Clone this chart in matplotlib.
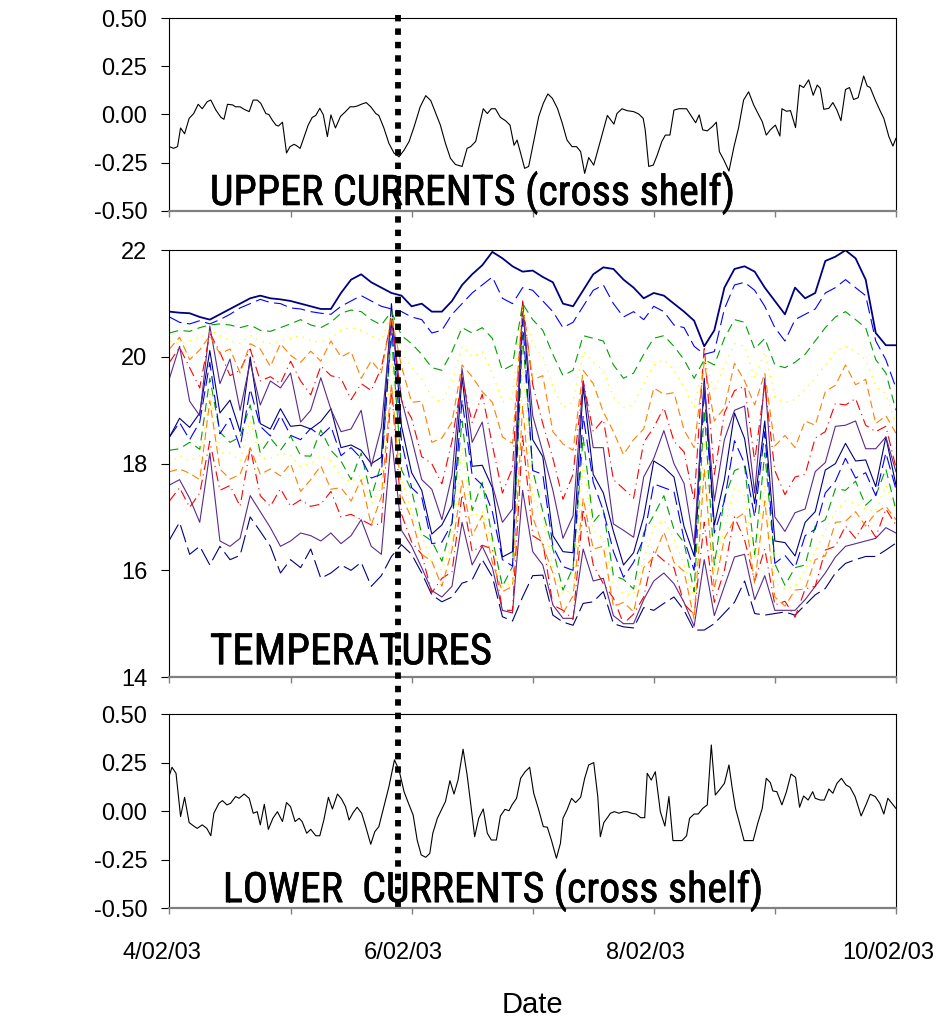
import datetime as dt
import numpy as np
import matplotlib
matplotlib.use('Agg')
import matplotlib.pyplot as plt
import matplotlib.dates as mdates
import matplotlib.patheffects as pe
from matplotlib import font_manager
from matplotlib.lines import Line2D
from matplotlib.ticker import FuncFormatter
from matplotlib.transforms import blended_transform_factory, ScaledTranslation

plt.rcParams['font.family'] = ['Liberation Sans', 'DejaVu Sans']

START = dt.datetime(2003, 2, 4)
EVENT_HOUR = 45.3          # dotted marker line

# ── Upper currents (cross shelf), hours since 4/02/03 ──────────────────────────
UPPER_H = [0, 0.8, 1.6, 2.2, 3.0, 3.9, 4.8, 5.7, 6.5, 7.5,
           8.2, 9.2, 10.2, 10.8, 11.5, 12.5, 13.1, 14.0, 14.8, 15.8,
           16.6, 17.4, 18.1, 19.1, 19.7, 20.4, 21.1, 21.6, 22.4, 23.2,
           23.9, 24.7, 25.2, 25.9, 26.7, 27.5, 28.3, 29.0, 29.8, 30.5,
           31.3, 32.0, 32.9, 33.9, 34.9, 35.8, 36.6, 37.2, 38.2, 39.0,
           39.9, 40.9, 41.5, 42.5, 43.5, 44.5, 45.5, 46.5, 47.5, 48.5,
           49.7, 50.8, 51.8, 52.8, 53.7, 54.7, 55.7, 56.7, 58.0, 59.0,
           59.7, 60.7, 61.3, 62.2, 63.0, 63.8, 64.6, 65.6, 66.6, 67.5,
           68.3, 68.9, 69.6, 70.4, 71.2, 72.2, 73.2, 74.1, 75.0, 75.9,
           76.9, 77.8, 78.8, 79.8, 80.7, 81.5, 82.3, 83.1, 84.1, 85.1,
           86.0, 86.8, 88.1, 88.7, 89.7, 90.7, 92.0, 93.0, 93.9, 94.3,
           95.0, 95.9, 96.7, 97.6, 98.3, 99.2, 100.0, 101.0, 102.5, 103.6,
           104.3, 105.0, 105.7, 106.6, 107.6, 108.4, 109.0, 109.9, 110.9, 111.9,
           112.8, 113.8, 114.8, 115.8, 116.8, 117.5, 118.3, 119.1, 120.1, 121.0,
           121.4, 122.3, 123.1, 124.1, 124.9, 125.7, 126.7, 127.6, 128.4, 129.0,
           129.7, 130.7, 131.5, 132.3, 133.1, 134.0, 134.8, 135.6, 136.5, 137.6,
           138.3, 138.9, 139.9, 140.8, 141.6, 142.6, 143.4, 144.0]
UPPER_V = [-0.167, -0.176, -0.167, -0.07, -0.10, -0.02, 0.005, 0.053, 0.03, 0.067,
           0.075, 0.023, -0.015, -0.025, 0.053, 0.05, 0.04, 0.04, 0.027, 0.015,
           0.075, 0.075, 0.058, 0.005, 0.0, -0.03, -0.055, -0.06, -0.04, -0.2,
           -0.167, -0.155, -0.162, -0.176, -0.115, -0.055, -0.015, -0.005, 0.032, -0.002,
           -0.115, -0.002, -0.07, -0.01, 0.015, 0.04, 0.04, 0.044, 0.055, 0.062,
           0.04, 0.005, -0.005, -0.07, -0.15, -0.2, -0.22, -0.185, -0.14, -0.063,
           0.04, 0.098, 0.072, 0.005, -0.055, -0.15, -0.228, -0.26, -0.27, -0.176,
           -0.167, -0.14, -0.07, 0.03, 0.005, 0.03, 0.03, -0.015, -0.032, -0.055,
           -0.16, -0.133, -0.2, -0.28, -0.27, -0.14, -0.01, 0.058, 0.107, 0.084,
           0.032, -0.04, -0.133, -0.167, -0.167, -0.193, -0.306, -0.224, -0.263, -0.167,
           -0.08, -0.005, -0.05, 0.005, 0.03, 0.02, 0.015, 0.003, -0.02, -0.08,
           -0.27, -0.263, -0.21, -0.14, -0.107, -0.107, 0.023, 0.03, 0.03, -0.015,
           -0.043, -0.002, -0.08, -0.085, -0.063, -0.04, -0.193, -0.237, -0.294, -0.167,
           -0.07, 0.075, 0.118, 0.05, -0.002, -0.037, -0.107, -0.08, -0.055, -0.112,
           0.03, 0.017, 0.02, -0.068, 0.153, 0.14, 0.18, 0.1, 0.153, 0.136,
           0.027, 0.032, 0.062, 0.023, -0.032, 0.13, 0.14, 0.078, 0.087, 0.2,
           0.148, 0.14, 0.075, 0.023, -0.02, -0.115, -0.164, -0.124]

# ── Lower currents (cross shelf) ──────────────────────────────────────────────
LOWER_H = [0, 0.5, 1.3, 2.2, 3.0, 3.9, 4.8, 5.5, 6.5, 7.4,
           8.2, 8.8, 9.8, 10.5, 11.4, 12.1, 13.1, 13.8, 14.8, 15.8,
           16.6, 17.4, 18.0, 18.8, 19.6, 20.5, 21.4, 22.4, 23.2, 24.0,
           24.9, 25.7, 26.3, 27.2, 28.0, 29.0, 29.8, 30.6, 31.5, 32.3,
           33.3, 34.1, 34.9, 35.6, 36.4, 37.2, 38.1, 38.9, 39.9, 40.7,
           41.5, 42.5, 43.5, 44.6, 45.5, 46.5, 47.5, 48.3, 49.1, 49.9,
           50.8, 51.6, 52.2, 53.1, 53.9, 54.7, 55.6, 56.4, 57.2, 58.2,
           59.0,
           59.7, 60.5, 61.3, 62.2, 63.0, 63.8, 64.8, 65.6, 66.5, 67.3,
           67.9, 68.8, 69.6, 70.5, 71.4, 72.2, 73.2, 74.1, 74.9, 75.7,
           76.7, 77.5, 78.0, 78.8, 79.7, 80.5, 81.5, 82.3, 83.1, 84.1,
           84.9, 85.4, 86.1, 86.8, 87.4, 88.2, 89.1, 90.0, 90.7, 91.6,
           92.5, 93.4, 94.2, 94.7, 95.5, 96.3, 97.3, 98.2, 99.0, 99.8,
           100.6, 101.6, 102.5, 103.1, 104.0, 104.8, 105.7, 106.6, 107.4, 108.2,
           109.1, 110.0, 110.9, 111.5, 112.2, 113.0, 113.9, 114.8, 115.7, 116.6,
           117.5, 118.3, 119.1, 119.6, 120.4, 121.4, 122.3, 123.2, 124.1, 124.9,
           125.7, 126.6, 127.5, 128.0, 129.0, 129.8, 130.7, 131.5, 132.3, 133.2,
           134.1, 134.9, 135.9, 137.1, 138.1, 138.9, 139.9, 140.8, 141.6, 142.4,
           143.2, 144.0]
LOWER_V = [0.187, 0.227, 0.196, -0.027, 0.072, -0.058, -0.076, -0.088, -0.07, -0.088,
           -0.126, -0.01, 0.041, 0.055, 0.033, 0.041, 0.076, 0.067, 0.089, 0.067,
           -0.01, -0.002, -0.07, 0.036, -0.093, -0.036, -0.002, -0.053, 0.045, 0.024,
           -0.053, -0.036, -0.053, -0.113, -0.093, -0.126, -0.126, -0.045, 0.072, 0.012,
           0.089, 0.064, 0.024, -0.045, -0.007, 0.021, -0.01, -0.079, -0.17, -0.105,
           -0.079, 0.024, 0.127, 0.265, 0.213, 0.101, 0.033, -0.019, -0.148, -0.225,
           -0.237, -0.217, -0.113, -0.036, 0.007, 0.05, 0.158, 0.089, 0.161, 0.32,
           0.187,
           0.041, -0.131, -0.036, 0.012, -0.113, -0.148, -0.148, -0.024, 0.01, 0.003,
           0.033, 0.067, 0.17, 0.204, 0.227, 0.093, 0.007, -0.079, -0.082, -0.148,
           -0.242, -0.165, -0.036, 0.007, 0.067, 0.045, 0.072, 0.17, 0.239, 0.251,
           0.076, -0.131, -0.058, -0.033, -0.01, -0.002, -0.01, -0.002, -0.002, -0.01,
           -0.014, -0.033, -0.033, 0.196, 0.161, 0.204, -0.002, -0.076, 0.076, -0.151,
           -0.151, -0.151, -0.126, -0.036, -0.014, -0.014, 0.015, 0.033, 0.342, 0.084,
           0.113, 0.144, 0.239, 0.127, 0.015, -0.062, -0.151, -0.151, -0.151, -0.062,
           0.015, 0.17, 0.148, 0.105, 0.101, 0.033, 0.101, 0.192, 0.175, 0.021,
           0.079, 0.058, 0.101, 0.067, 0.058, 0.058, 0.115, 0.093, 0.144, 0.17,
           0.136, 0.124, 0.076, -0.024, 0.036, 0.088, 0.076, 0.041, -0.014, 0.067,
           0.041, 0.015]

# ── Temperatures (thermistor string, shallow -> deep), every 2 h ──────────────
TEMP_H = list(range(0, 145, 2))

T01 = [20.85, 20.83, 20.82, 20.75, 20.70, 20.80, 20.90, 21.00, 21.10, 21.15,
       21.10, 21.08, 21.05, 21.00, 20.95, 20.90, 20.90, 21.20, 21.45, 21.55,
       21.40, 21.30, 21.20, 21.15, 20.95, 21.00, 20.85, 20.85, 21.05, 21.35,
       21.55, 21.72, 21.97, 21.85, 21.70, 21.60, 21.62, 21.50, 21.40, 21.00,
       20.95, 21.25, 21.55, 21.68, 21.65, 21.45, 21.30, 21.10, 21.20, 21.15,
       21.00, 20.85, 20.68, 20.20, 20.50, 21.30, 21.65, 21.70, 21.60, 21.30,
       21.05, 20.80, 21.30, 21.10, 21.20, 21.80, 21.88, 22.00, 21.85, 21.45,
       20.45, 20.22, 20.22]
T02 = [20.75, 20.65, 20.62, 20.68, 20.62, 20.70, 20.80, 20.92, 21.00, 21.08,
       21.02, 21.00, 20.92, 20.90, 20.85, 20.82, 20.80, 20.95, 21.05, 21.15,
       21.05, 20.95, 20.90, 20.85, 20.75, 20.70, 20.45, 20.50, 20.80, 21.00,
       21.20, 21.35, 21.50, 21.10, 21.00, 21.30, 21.25, 21.05, 20.85, 20.55,
       20.65, 20.95, 21.25, 21.35, 21.00, 20.75, 20.85, 20.70, 20.95, 20.85,
       20.60, 20.55, 20.20, 20.05, 20.10, 20.90, 21.35, 21.40, 21.25, 20.95,
       20.55, 20.30, 20.70, 20.80, 20.90, 21.20, 21.30, 21.45, 21.30, 21.15,
       20.30, 19.95, 19.42]
T03 = [20.45, 20.50, 20.48, 20.55, 20.60, 20.62, 20.60, 20.55, 20.60, 20.50,
       20.48, 20.55, 20.62, 20.70, 20.60, 20.55, 20.65, 20.82, 20.88, 20.85,
       20.70, 20.60, 20.85, 20.40, 20.25, 20.05, 19.80, 19.75, 20.10, 20.55,
       20.45, 20.55, 20.35, 19.75, 19.85, 21.00, 20.70, 20.50, 20.05, 19.65,
       19.75, 20.40, 20.35, 20.30, 19.85, 19.60, 19.70, 20.05, 20.35, 20.40,
       20.20, 19.95, 19.60, 19.95, 19.85, 20.35, 20.70, 20.65, 20.15, 20.35,
       19.85, 19.80, 19.90, 20.05, 20.30, 20.55, 20.75, 20.85, 20.70, 20.55,
       19.95, 19.70, 19.00]
T04 = [20.30, 20.25, 20.30, 20.35, 20.50, 20.40, 20.30, 20.25, 20.40, 20.30,
       20.25, 20.30, 20.35, 20.40, 20.30, 20.28, 20.35, 20.50, 20.55, 20.50,
       20.40, 20.30, 20.80, 20.10, 19.80, 19.60, 19.25, 19.15, 19.55, 20.20,
       20.00, 20.10, 19.70, 19.15, 19.25, 20.90, 20.25, 20.00, 19.45, 19.05,
       19.15, 20.10, 19.90, 19.75, 19.25, 19.05, 19.10, 19.50, 19.85, 19.95,
       19.75, 19.45, 19.05, 20.00, 19.35, 19.85, 20.25, 20.20, 19.60, 20.10,
       19.25, 19.15, 19.20, 19.40, 19.60, 19.85, 20.10, 20.20, 20.10, 19.95,
       19.45, 19.30, 18.75]
T05 = [20.15, 20.37, 19.95, 20.13, 20.40, 20.06, 20.15, 19.70, 20.25, 20.15,
       19.82, 20.25, 20.03, 19.90, 20.11, 19.92, 20.30, 20.00, 20.10, 19.60,
       19.93, 19.70, 20.75, 19.82, 19.15, 19.17, 18.40, 18.48, 18.78, 19.85,
       19.63, 19.35, 19.15, 18.50, 18.38, 20.95, 19.57, 19.65, 18.60, 18.37,
       18.25, 19.75, 19.50, 18.97, 18.60, 18.17, 18.45, 18.65, 19.42, 19.30,
       19.33, 18.63, 18.30, 19.90, 18.80, 19.05, 19.88, 19.55, 19.10, 19.70,
       18.33, 18.53, 18.30, 18.80, 18.72, 19.35, 19.47, 19.85, 19.48, 19.58,
       18.75, 18.90, 18.57]
T06 = [19.90, 20.18, 19.80, 19.42, 20.45, 20.09, 19.65, 19.75, 20.15, 19.55,
       19.63, 19.50, 19.92, 19.55, 19.29, 19.83, 19.65, 19.60, 19.20, 19.50,
       19.37, 19.80, 20.70, 19.18, 18.85, 18.13, 18.00, 17.62, 18.42, 19.60,
       18.77, 19.30, 18.35, 17.45, 17.92, 21.05, 19.48, 18.75, 18.10, 17.33,
       17.80, 19.55, 18.60, 18.83, 17.70, 17.53, 17.35, 18.40, 18.68, 19.05,
       18.42, 18.22, 17.30, 20.20, 17.80, 18.95, 19.37, 19.45, 18.05, 19.50,
       17.87, 17.42, 17.75, 17.80, 18.48, 18.60, 19.13, 19.10, 19.22, 18.72,
       18.60, 18.70, 17.93]
T07 = [19.60, 20.20, 19.17, 18.90, 20.58, 19.50, 19.96, 19.00, 19.90, 19.10,
       19.55, 19.42, 19.70, 18.78, 19.00, 19.61, 19.02, 18.60, 18.65, 19.00,
       17.95, 18.68, 20.70, 19.20, 18.47, 17.70, 17.52, 16.95, 17.78, 19.78,
       18.40, 18.78, 17.60, 16.90, 17.15, 20.98, 18.90, 18.22, 17.50, 16.60,
       17.02, 19.55, 18.30, 18.30, 16.87, 16.75, 16.62, 17.75, 18.10, 18.62,
       18.00, 17.63, 16.48, 19.50, 17.30, 18.45, 19.00, 19.08, 17.45, 19.60,
       17.00, 16.73, 17.08, 17.15, 17.85, 18.02, 18.70, 18.72, 18.80, 18.28,
       18.28, 18.50, 17.85]
T08 = [18.50, 18.85, 18.68, 18.95, 20.12, 18.95, 19.19, 18.60, 20.00, 18.75,
       18.65, 19.03, 18.70, 18.72, 18.65, 18.79, 19.03, 18.30, 18.35, 18.25,
       18.00, 18.12, 21.00, 18.70, 17.83, 17.50, 16.68, 16.85, 17.22, 19.62,
       17.95, 17.97, 17.55, 16.25, 16.35, 21.02, 18.45, 18.13, 16.65, 16.35,
       16.33, 19.45, 17.80, 17.45, 16.73, 16.10, 16.33, 17.00, 18.05, 17.93,
       17.75, 16.82, 16.27, 19.60, 16.85, 17.70, 18.95, 18.47, 17.25, 18.80,
       16.55, 16.52, 16.27, 16.90, 17.10, 17.88, 18.00, 18.38, 18.05, 18.07,
       17.57, 18.50, 17.60]
T09 = [18.50, 18.77, 18.45, 18.78, 19.90, 18.56, 18.85, 18.30, 19.40, 18.70,
       18.52, 18.90, 18.53, 18.45, 18.66, 18.52, 18.70, 18.15, 18.30, 18.10,
       17.73, 17.80, 20.60, 18.42, 17.55, 17.37, 16.50, 16.53, 16.88, 19.20,
       17.78, 17.60, 17.10, 16.20, 16.08, 20.70, 17.87, 17.80, 16.45, 16.07,
       16.00, 18.90, 17.65, 17.12, 16.35, 15.87, 16.15, 16.60, 17.62, 17.55,
       17.48, 16.58, 16.00, 19.40, 16.70, 17.30, 18.43, 18.00, 17.00, 18.60,
       16.13, 16.28, 16.05, 16.65, 16.77, 17.45, 17.67, 18.10, 17.73, 17.83,
       17.40, 18.20, 17.52]
T10 = [18.25, 18.28, 18.40, 18.27, 19.60, 18.59, 18.40, 18.50, 19.10, 18.20,
       18.48, 18.25, 18.52, 18.15, 18.14, 18.63, 18.25, 18.05, 17.70, 18.20,
       17.37, 18.00, 20.40, 17.88, 17.50, 16.68, 16.55, 16.17, 16.87, 18.80,
       17.12, 17.65, 16.60, 15.70, 16.07, 20.40, 17.88, 17.10, 16.40, 15.63,
       16.05, 18.50, 16.90, 17.13, 15.90, 15.83, 15.65, 16.70, 17.03, 17.40,
       16.77, 16.52, 15.60, 19.00, 16.10, 17.35, 17.87, 17.95, 16.30, 18.20,
       16.12, 15.72, 16.05, 16.10, 16.83, 16.95, 17.53, 17.50, 17.67, 17.22,
       17.40, 17.90, 17.13]
T11 = [18.00, 18.15, 18.05, 18.15, 19.30, 18.20, 18.20, 18.05, 18.80, 18.10,
       18.10, 18.20, 18.15, 17.95, 18.00, 18.15, 18.05, 17.75, 17.65, 17.80,
       17.25, 17.55, 20.10, 17.70, 17.10, 16.65, 16.15, 16.00, 16.50, 18.30,
       17.00, 17.10, 16.50, 15.70, 15.75, 19.80, 17.35, 17.00, 16.05, 15.55,
       15.65, 18.00, 16.75, 16.60, 15.75, 15.55, 15.55, 16.20, 16.80, 16.95,
       16.60, 16.10, 15.45, 18.40, 15.95, 16.80, 17.55, 17.40, 16.20, 17.60,
       15.75, 15.65, 15.70, 16.00, 16.35, 16.75, 17.10, 17.30, 17.25, 17.15,
       17.10, 17.60, 17.10]
T12 = [17.85, 17.90, 17.82, 17.70, 19.18, 17.90, 17.71, 17.80, 18.30, 17.80,
       17.90, 17.77, 18.00, 17.48, 17.70, 17.96, 17.52, 17.55, 17.30, 17.70,
       16.85, 17.38, 19.50, 17.40, 16.97, 16.30, 16.17, 15.70, 16.38, 17.68,
       16.65, 17.03, 16.15, 15.60, 15.70, 19.08, 17.00, 16.47, 15.95, 15.20,
       15.52, 17.35, 16.40, 16.45, 15.32, 15.40, 15.22, 16.05, 16.25, 16.72,
       16.15, 15.98, 15.08, 17.90, 15.65, 16.60, 16.95, 17.08, 15.75, 17.30,
       15.50, 15.33, 15.63, 15.65, 16.20, 16.27, 16.90, 16.92, 17.10, 16.83,
       17.08, 17.20, 16.95]
T13 = [17.30, 17.55, 17.18, 17.45, 18.42, 17.50, 17.59, 17.20, 18.30, 17.40,
       17.20, 17.53, 17.20, 17.32, 17.20, 17.24, 17.48, 17.00, 17.05, 16.95,
       16.85, 16.87, 19.40, 17.05, 16.53, 16.30, 15.58, 15.85, 15.97, 17.42,
       16.35, 16.47, 16.40, 15.25, 15.25, 18.52, 16.65, 16.53, 15.35, 15.25,
       15.08, 17.15, 16.10, 15.75, 15.48, 15.00, 15.18, 15.50, 16.35, 16.18,
       16.05, 15.37, 15.17, 16.90, 15.40, 16.00, 17.00, 16.57, 15.80, 16.40,
       15.35, 15.42, 15.12, 15.65, 15.70, 16.38, 16.45, 16.83, 16.60, 16.92,
       16.62, 17.15, 16.85]
T14 = [17.60, 17.70, 17.35, 16.90, 18.20, 16.55, 16.45, 16.60, 17.40, 17.10,
       16.80, 16.45, 16.55, 16.70, 16.65, 16.55, 16.70, 16.50, 16.65, 16.95,
       16.45, 16.30, 18.50, 16.75, 16.45, 16.05, 15.62, 15.50, 15.70, 16.90,
       16.10, 16.45, 16.05, 15.25, 15.20, 17.50, 16.35, 16.10, 15.35, 15.10,
       15.10, 16.40, 15.80, 15.85, 15.15, 15.00, 15.00, 15.45, 15.80, 15.95,
       15.75, 15.40, 14.95, 16.20, 15.15, 15.70, 16.25, 16.30, 15.45, 15.90,
       15.25, 15.25, 15.25, 15.45, 15.70, 15.95, 16.25, 16.45, 16.50, 16.55,
       16.60, 16.80, 16.70]
T15 = [16.57, 16.90, 16.30, 16.45, 16.10, 16.45, 16.20, 16.28, 17.00, 16.73,
       16.45, 15.95, 16.20, 16.05, 16.40, 15.85, 15.95, 16.10, 16.00, 16.15,
       15.70, 15.90, 16.26, 16.48, 16.30, 15.95, 15.54, 15.41, 15.50, 15.76,
       15.82, 16.20, 15.88, 15.13, 15.05, 15.50, 15.90, 15.91, 15.16, 15.03,
       14.97, 15.38, 15.41, 15.60, 15.00, 14.94, 14.92, 15.30, 15.25, 15.38,
       15.50, 15.25, 14.88, 14.88, 15.00, 15.20, 15.40, 15.80, 15.19, 15.16,
       15.19, 15.22, 15.16, 15.35, 15.54, 15.66, 15.95, 16.13, 16.20, 16.26,
       16.26, 16.38, 16.51]

TEMPS = [T01, T02, T03, T04, T05, T06, T07, T08, T09, T10, T11, T12, T13, T14, T15]

NAVY, BLUE, GREEN, YELLOW = '#000080', '#0000FF', '#00A000', '#FFFF00'
ORANGE, RED, PURPLE = '#FF8000', '#FF0000', '#5B2A8C'
SENSOR_STYLE = [
    (NAVY, '-', 1.3),
    (BLUE, (0, (12, 5)), 0.8),
    (GREEN, (0, (8, 5)), 0.8),
    (YELLOW, (0, (1, 4)), 1.0),
    (ORANGE, (0, (7, 4)), 0.8),
    (RED, (0, (9, 4, 1, 4)), 0.8),
    (PURPLE, '-', 0.8),
    (NAVY, '-', 0.8),
    (BLUE, (0, (12, 5)), 0.8),
    (GREEN, (0, (8, 5)), 0.8),
    (YELLOW, (0, (1, 4)), 1.0),
    (ORANGE, (0, (7, 4)), 0.8),
    (RED, (0, (9, 4, 1, 4)), 0.8),
    (PURPLE, '-', 0.8),
    (NAVY, (0, (16, 5)), 0.8),
]


def to_num(hours):
    return mdates.date2num(START) + np.asarray(hours, dtype=float) / 24.0


def date_label(x, pos):
    d = mdates.num2date(x)
    if (d.replace(tzinfo=None) - START).days % 2:
        return ''
    return f'{d.day}/{d.month:02d}/{d.year % 100:02d}'


def style_axes(ax, show_dates=False):
    ax.set_xlim(to_num(0), to_num(144))
    ax.xaxis.set_major_locator(mdates.DayLocator())
    ax.xaxis.set_major_formatter(FuncFormatter(date_label))
    for side in ['top', 'left', 'right']:
        ax.spines[side].set_linewidth(0.8)
        ax.spines[side].set_color('black')
    ax.spines['bottom'].set_color('#808080')
    ax.spines['bottom'].set_linewidth(1.6)
    ax.tick_params(axis='y', direction='out', length=6, width=0.8,
                   labelsize=17, pad=10)
    ax.tick_params(axis='x', direction='out', length=4.5, width=1.0,
                   color='#808080', labelsize=17, pad=20,
                   labelbottom=show_dates)


def caption_font():
    """Pick a narrow sans face for the panel captions if one is installed."""
    fonts = font_manager.fontManager.ttflist
    for f in fonts:
        if f.name in ('Liberation Sans Narrow', 'Arial Narrow', 'Roboto Condensed',
                      'Open Sans Condensed') and f.style == 'normal' and f.weight in (400, 'normal', 'regular'):
            return font_manager.FontProperties(fname=f.fname)
    for f in fonts:
        if 'condensed' in str(f.stretch) and f.style == 'normal' \
                and f.weight in (400, 'normal', 'regular') and 'Mono' not in f.name \
                and 'Serif' not in f.name:
            return font_manager.FontProperties(fname=f.fname)
    return font_manager.FontProperties(family='DejaVu Sans')


fig = plt.figure(figsize=(9.42, 10.23), dpi=100)

LEFT, WIDTH = 0.1799, 0.7712
ax_up = fig.add_axes([LEFT, 0.79404, WIDTH, 0.18807])
ax_t = fig.add_axes([LEFT, 0.33822, WIDTH, 0.41711])
ax_lo = fig.add_axes([LEFT, 0.11212, WIDTH, 0.18964])

# Upper currents
ax_up.plot(to_num(UPPER_H), UPPER_V, color='black', lw=0.8)
ax_up.set_ylim(-0.5, 0.5)
ax_up.set_yticks([-0.5, -0.25, 0, 0.25, 0.5])
ax_up.set_yticklabels(['-0.50', '-0.25', '0.00', '0.25', '0.50'])
style_axes(ax_up)

# Temperatures (deep sensors drawn first, surface on top)
tnum = to_num(TEMP_H)
for series, (col, ls, lw) in reversed(list(zip(TEMPS, SENSOR_STYLE))):
    ax_t.plot(tnum, series, color=col, linestyle=ls, lw=lw)
ax_t.set_ylim(14, 22)
ax_t.set_yticks([14, 16, 18, 20, 22])
style_axes(ax_t)

# Lower currents
ax_lo.plot(to_num(LOWER_H), LOWER_V, color='black', lw=0.8)
ax_lo.set_ylim(-0.5, 0.5)
ax_lo.set_yticks([-0.5, -0.25, 0, 0.25, 0.5])
ax_lo.set_yticklabels(['-0.50', '-0.25', '0.00', '0.25', '0.50'])
style_axes(ax_lo, show_dates=True)

# Date labels sit slightly left of their ticks in the original
for lab in ax_lo.get_xticklabels():
    lab.set_transform(lab.get_transform() + ScaledTranslation(-0.08, 0, fig.dpi_scale_trans))

# Panel captions, sized to the width they take in the original
cap_font = caption_font()
captions = [
    (ax_up, 0.0557, 0.030, 'UPPER CURRENTS (cross shelf)', 525),
    (ax_t, 0.0557, 0.030, 'TEMPERATURES', 282),
    (ax_lo, 0.0736, 0.032, 'LOWER  CURRENTS (cross shelf)', 540),
]
cap_texts = []
for ax, x, y, label, width_px in captions:
    t = ax.text(x, y, label, transform=ax.transAxes, fontproperties=cap_font,
                fontsize=30, va='baseline',
                path_effects=[pe.withStroke(linewidth=0.5, foreground='black')])
    cap_texts.append((t, width_px))
fig.canvas.draw()
for t, width_px in cap_texts:
    w = t.get_window_extent().width
    t.set_fontsize(30 * width_px / w)

fig.text(0.5647, 1 - 1005 / 1023, 'Date', ha='center', va='center', fontsize=21)

# Thick dotted marker crossing all three panels
trans = blended_transform_factory(ax_t.transData, fig.transFigure)
xe = to_num(EVENT_HOUR)
fig.add_artist(Line2D([xe, xe], [1 - 15 / 1023, 1 - 908 / 1023], transform=trans,
                      color='black', lw=4.2, linestyle=(0, (1.1, 1.2)),
                      dash_capstyle='butt', zorder=10))

fig.savefig('out.png', dpi=100)
